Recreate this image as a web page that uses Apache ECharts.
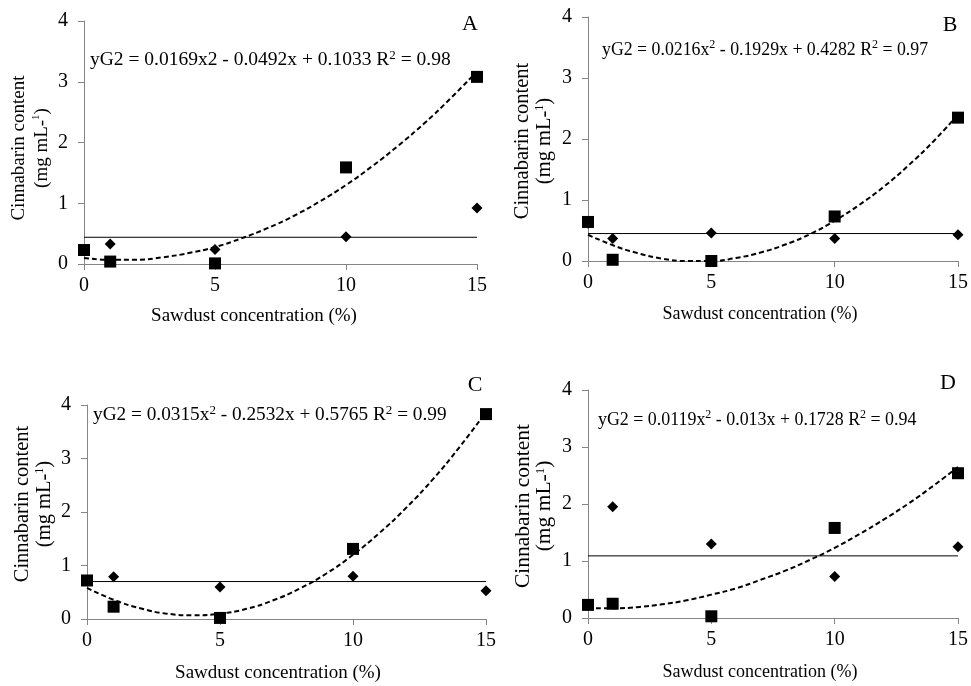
<!DOCTYPE html>
<html><head><meta charset="utf-8">
<script src="https://cdn.jsdelivr.net/npm/echarts@6/dist/echarts.min.js"></script>
<style>html,body{margin:0;padding:0;background:#fff}#c{width:971px;height:686px}</style>
</head><body><div id="c"></div>
<script>
// ---- data ----
const xValues = [0, 1, 5, 10, 15];
const fitX = [0, 1, 2, 3, 4, 5, 6, 7, 8, 9, 10, 11, 12, 13, 14, 15];
const xTicks = [0, 5, 10, 15];
const yTicks = [0, 1, 2, 3, 4];

const squaresA = [0.23, 0.04, 0.01, 1.59, 3.08];
const diamondsA = [0.22, 0.33, 0.24, 0.45, 0.92];
const meanA = 0.44;
const fitA = [0.10, 0.07, 0.07, 0.11, 0.18, 0.28, 0.42, 0.59, 0.79, 1.03, 1.30, 1.61, 1.95, 2.32, 2.73, 3.17];

const squaresB = [0.64, 0.02, 0.00, 0.73, 2.35];
const diamondsB = [0.62, 0.37, 0.46, 0.37, 0.43];
const meanB = 0.45;
const fitB = [0.43, 0.26, 0.13, 0.04, 0.00, 0.00, 0.05, 0.14, 0.27, 0.44, 0.66, 0.92, 1.22, 1.57, 1.96, 2.40];

const squaresC = [0.72, 0.23, 0.02, 1.31, 3.83];
const diamondsC = [0.72, 0.79, 0.60, 0.80, 0.53];
const meanC = 0.70;
const fitC = [0.58, 0.36, 0.20, 0.10, 0.07, 0.10, 0.19, 0.35, 0.57, 0.85, 1.20, 1.61, 2.08, 2.61, 3.21, 3.87];

const squaresD = [0.23, 0.25, 0.03, 1.58, 2.54];
const diamondsD = [0.22, 1.95, 1.30, 0.73, 1.25];
const meanD = 1.09;
const fitD = [0.17, 0.17, 0.19, 0.24, 0.31, 0.41, 0.52, 0.67, 0.83, 1.02, 1.23, 1.47, 1.73, 2.01, 2.32, 2.65];

const panelLetters = ['A', 'B', 'C', 'D'];
const equations = [
  'yG2 = 0.0169x2 - 0.0492x + 0.1033 R{sup|2} = 0.98',
  'yG2 = 0.0216x{sup|2} - 0.1929x + 0.4282 R{sup|2} = 0.97',
  'yG2 = 0.0315x{sup|2} - 0.2532x + 0.5765 R{sup|2} = 0.99',
  'yG2 = 0.0119x{sup|2} - 0.013x + 0.1728 R{sup|2} = 0.94'
];
const xTitle = 'Sawdust concentration (%)';
const yTitle = 'Cinnabarin content\n(mg mL-{sup|1})';

// ---- layout ----
const FONT = '"Liberation Serif", "Times New Roman", serif';
const panels = [
  {sq: squaresA, di: diamondsA, mean: meanA, fit: fitA, grid: {left: 84, top: 21, width: 393, height: 243},
   letter: [470, 24], eq: [90, 60], eqSize: 19.5, xt: [254, 316], xtSize: 19, yt: [31, 148], ytSize: 19, ytLH: 23},
  {sq: squaresB, di: diamondsB, mean: meanB, fit: fitB, grid: {left: 588, top: 17, width: 373, height: 244},
   letter: [950, 25], eq: [602, 50], eqSize: 17.8, xt: [760, 314], xtSize: 18, yt: [534, 141], ytSize: 20.5, ytLH: 22},
  {sq: squaresC, di: diamondsC, mean: meanC, fit: fitC, grid: {left: 87, top: 405, width: 399, height: 214},
   letter: [475, 385], eq: [93, 415], eqSize: 19.3, xt: [278, 673], xtSize: 19, yt: [34, 504], ytSize: 20.5, ytLH: 22},
  {sq: squaresD, di: diamondsD, mean: meanD, fit: fitD, grid: {left: 588, top: 390, width: 371, height: 228},
   letter: [948, 383], eq: [598, 420], eqSize: 17.9, xt: [760, 672], xtSize: 18, yt: [534, 506], ytSize: 21.5, ytLH: 21}
];

const AXIS_COLOR = '#858585';
const grids = [], xAxes = [], yAxes = [], series = [], graphics = [];
const supStyle = {fontFamily: FONT, fill: '#000', verticalAlign: 'top', lineHeight: 12};

panels.forEach((p, i) => {
  grids.push(Object.assign({containLabel: false}, p.grid));
  xAxes.push({
    type: 'value', gridIndex: i, min: xTicks[0], max: xTicks[xTicks.length - 1], interval: 5,
    axisLine: {show: true, onZero: false, lineStyle: {color: AXIS_COLOR, width: 1}},
    axisTick: {show: true, length: 6, lineStyle: {color: AXIS_COLOR}},
    splitLine: {show: false},
    axisLabel: {fontFamily: FONT, fontSize: 20, color: '#000', margin: 12}
  });
  yAxes.push({
    type: 'value', gridIndex: i, min: yTicks[0], max: yTicks[yTicks.length - 1], interval: 1,
    axisLine: {show: true, onZero: false, lineStyle: {color: AXIS_COLOR, width: 1}},
    axisTick: {show: true, length: 6, lineStyle: {color: AXIS_COLOR}},
    splitLine: {show: false},
    axisLabel: {fontFamily: FONT, fontSize: 20, color: '#000', margin: 16}
  });
  series.push({
    type: 'line', xAxisIndex: i, yAxisIndex: i, symbol: 'none', silent: true,
    data: [[xValues[0], p.mean], [xValues[xValues.length - 1], p.mean]],
    lineStyle: {color: '#000', width: 1}, z: 2
  });
  series.push({
    type: 'line', xAxisIndex: i, yAxisIndex: i, symbol: 'none', silent: true, smooth: true,
    data: fitX.map((x, j) => [x, p.fit[j]]),
    lineStyle: {color: '#000', width: 2, type: [5, 3]}, z: 3
  });
  series.push({
    type: 'scatter', xAxisIndex: i, yAxisIndex: i, symbol: 'diamond', symbolSize: [11, 11], clip: false,
    data: xValues.map((x, j) => [x, p.di[j]]), itemStyle: {color: '#000', opacity: 1}, z: 4
  });
  series.push({
    type: 'scatter', xAxisIndex: i, yAxisIndex: i, symbol: 'rect', symbolSize: 12, clip: false,
    data: xValues.map((x, j) => [x, p.sq[j]]), itemStyle: {color: '#000', opacity: 1}, z: 5
  });
  graphics.push({
    type: 'text', x: p.letter[0], y: p.letter[1],
    style: {text: panelLetters[i], fontFamily: FONT, fontSize: 22, fill: '#000', align: 'center', verticalAlign: 'middle'}
  });
  graphics.push({
    type: 'text', x: p.eq[0], y: p.eq[1],
    style: {text: equations[i], fontFamily: FONT, fontSize: p.eqSize, fill: '#000', align: 'left', verticalAlign: 'middle',
      lineHeight: 22, rich: {sup: Object.assign({}, supStyle, {fontSize: Math.round(p.eqSize * 0.65)})}}
  });
  graphics.push({
    type: 'text', x: p.xt[0], y: p.xt[1],
    style: {text: xTitle, fontFamily: FONT, fontSize: p.xtSize, fill: '#000', align: 'center', verticalAlign: 'middle'}
  });
  graphics.push({
    type: 'text', x: p.yt[0], y: p.yt[1], rotation: Math.PI / 2,
    style: {text: yTitle, fontFamily: FONT, fontSize: p.ytSize, fill: '#000', align: 'center', verticalAlign: 'middle',
      lineHeight: p.ytLH, rich: {sup: Object.assign({}, supStyle, {fontSize: Math.round(p.ytSize * 0.6)})}}
  });
});

const chart = echarts.init(document.getElementById('c'), null, {renderer: 'canvas'});
chart.setOption({
  animation: false,
  backgroundColor: '#fff',
  grid: grids, xAxis: xAxes, yAxis: yAxes, series: series, graphic: graphics
});
</script>
</body></html>
